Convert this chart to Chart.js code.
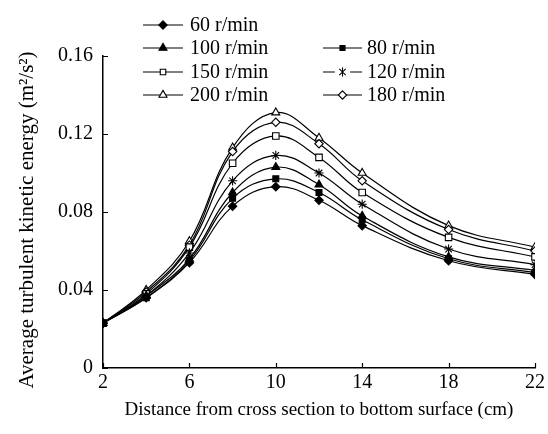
<!DOCTYPE html>
<html>
<head>
<meta charset="utf-8">
<script src="https://cdn.jsdelivr.net/npm/chart.js@4/dist/chart.umd.min.js"></script>
<style>
  html, body { margin: 0; padding: 0; background: #fff; }
  #wrap { width: 548px; height: 434px; position: relative; }
</style>
</head>
<body>
<div id="wrap"><canvas id="c"></canvas></div>
<script>
// ---- data ----
const distances = [2, 4, 6, 8, 10, 12, 14, 18, 22];
const xTicks = [2, 6, 10, 14, 18, 22];
const yTicks = [0, 0.04, 0.08, 0.12, 0.16];
const speedLabels = ['60 r/min', '80 r/min', '100 r/min', '120 r/min', '150 r/min', '180 r/min', '200 r/min'];
const rpm60  = [0.023, 0.036, 0.054, 0.083, 0.093, 0.086, 0.073, 0.055, 0.048];
const rpm80  = [0.023, 0.036, 0.055, 0.087, 0.097, 0.090, 0.076, 0.056, 0.049];
const rpm100 = [0.023, 0.037, 0.056, 0.090, 0.103, 0.094, 0.078, 0.057, 0.050];
const rpm120 = [0.023, 0.037, 0.059, 0.096, 0.109, 0.100, 0.084, 0.061, 0.053];
const rpm150 = [0.023, 0.038, 0.062, 0.105, 0.119, 0.108, 0.090, 0.067, 0.057];
const rpm180 = [0.023, 0.039, 0.063, 0.111, 0.126, 0.115, 0.096, 0.071, 0.060];
const rpm200 = [0.023, 0.040, 0.065, 0.113, 0.131, 0.118, 0.100, 0.073, 0.062];
const xTitle = 'Distance from cross section to bottom surface (cm)';
const yTitle = 'Average turbulent kinetic energy (m²/s²)';

const seriesValues = [rpm60, rpm80, rpm100, rpm120, rpm150, rpm180, rpm200];
const markerStyles = ['rectRot', 'rect', 'triangle', 'star', 'rect', 'rectRot', 'triangle'];
const markerFilled = [true, true, true, false, false, false, false];
const markerRadius = [4.2, 4.2, 4.6, 4.6, 4.6, 4.2, 4.6];

const FONT = '"Liberation Serif", "Times New Roman", serif';

const datasets = seriesValues.map((vals, i) => ({
  label: speedLabels[i],
  data: distances.map((d, j) => ({ x: d, y: vals[j] })),
  borderColor: '#000',
  borderWidth: 1.2,
  backgroundColor: markerFilled[i] ? '#000' : '#fff',
  pointStyle: markerStyles[i],
  pointRadius: markerRadius[i],
  pointBorderWidth: 1.1,
  pointBorderColor: '#000',
  pointBackgroundColor: markerFilled[i] ? '#000' : '#fff',
  tension: 0.4,
  fill: false
}));

function drawMarker(ctx, style, x, y, r, filled) {
  ctx.save();
  ctx.fillStyle = filled ? '#000' : '#fff';
  ctx.strokeStyle = '#000';
  ctx.lineWidth = 1.1;
  ctx.beginPath();
  if (style === 'rect') {
    const s = r * Math.SQRT1_2 * 2 * 0.85;
    ctx.rect(x - s / 2, y - s / 2, s, s);
    ctx.fill(); ctx.stroke();
  } else if (style === 'rectRot') {
    ctx.moveTo(x, y - r); ctx.lineTo(x + r, y); ctx.lineTo(x, y + r); ctx.lineTo(x - r, y); ctx.closePath();
    ctx.fill(); ctx.stroke();
  } else if (style === 'triangle') {
    ctx.moveTo(x, y - r); ctx.lineTo(x + r * 0.87, y + r * 0.5); ctx.lineTo(x - r * 0.87, y + r * 0.5); ctx.closePath();
    ctx.fill(); ctx.stroke();
  } else if (style === 'star') {
    ctx.fillStyle = '#fff';
    ctx.fillRect(x - r - 3, y - r, 2 * r + 6, 2 * r);
    ctx.beginPath();
    ctx.moveTo(x - r * 0.7, y - r * 0.7); ctx.lineTo(x + r * 0.7, y + r * 0.7);
    ctx.moveTo(x + r * 0.7, y - r * 0.7); ctx.lineTo(x - r * 0.7, y + r * 0.7);
    ctx.moveTo(x, y - r); ctx.lineTo(x, y + r);
    ctx.stroke();
  }
  ctx.restore();
}

const legendAndTicks = {
  id: 'legendAndTicks',
  afterDraw(chart) {
    const ctx = chart.ctx;
    const xs = chart.scales.x, ys = chart.scales.y;
    ctx.save();
    ctx.strokeStyle = '#000';
    ctx.lineWidth = 1.2;
    // inward tick marks
    ctx.beginPath();
    xTicks.forEach(v => {
      const px = Math.round(xs.getPixelForValue(v)) + 0.5;
      ctx.moveTo(px, ys.bottom); ctx.lineTo(px, ys.bottom - 5);
    });
    yTicks.forEach(v => {
      const py = Math.round(ys.getPixelForValue(v)) + 0.5;
      ctx.moveTo(xs.left, py); ctx.lineTo(xs.left + 5, py);
    });
    ctx.stroke();

    // y axis title (rotated)
    ctx.save();
    ctx.translate(27, 220);
    ctx.rotate(-Math.PI / 2);
    ctx.font = '21px ' + FONT;
    ctx.fillStyle = '#000';
    ctx.textAlign = 'center';
    ctx.textBaseline = 'middle';
    ctx.fillText(yTitle, 0, 0);
    ctx.restore();

    // legend: two columns
    const colA = { x1: 143, x2: 183, tx: 190 };
    const colB = { x1: 323, x2: 362, tx: 367 };
    const rowY = [25, 48, 72, 95];
    const placement = [
      [colA, 0], [colB, 1], [colA, 1], [colB, 2], [colA, 2], [colB, 3], [colA, 3]
    ];
    ctx.font = '20px ' + FONT;
    ctx.fillStyle = '#000';
    ctx.textBaseline = 'middle';
    ctx.textAlign = 'left';
    chart.data.datasets.forEach((ds, i) => {
      const [col, r] = placement[i];
      const y = rowY[r];
      ctx.beginPath();
      ctx.lineWidth = 1.2;
      ctx.moveTo(col.x1, y); ctx.lineTo(col.x2, y);
      ctx.stroke();
      drawMarker(ctx, markerStyles[i], (col.x1 + col.x2) / 2, y, markerRadius[i], markerFilled[i]);
      ctx.fillStyle = '#000';
      ctx.fillText(ds.label, col.tx, y + 1);
    });
    ctx.restore();
  }
};

new Chart(document.getElementById('c'), {
  type: 'line',
  data: { datasets },
  options: {
    responsive: true,
    maintainAspectRatio: false,
    animation: false,
    layout: { padding: { top: 56, right: 11, bottom: 0, left: 0 } },
    plugins: { legend: { display: false }, tooltip: { enabled: false } },
    scales: {
      x: {
        type: 'linear',
        min: 2, max: 22,
        afterBuildTicks: s => { s.ticks = xTicks.map(v => ({ value: v })); },
        afterFit: s => { s.height = 66; },
        grid: { display: false, drawTicks: false },
        border: { display: true, color: '#000', width: 1.5 },
        ticks: { color: '#000', font: { family: FONT, size: 20 }, padding: 3, maxRotation: 0 },
        title: { display: true, text: xTitle, color: '#000', font: { family: FONT, size: 19 }, padding: { top: 0, bottom: 13 } }
      },
      y: {
        min: 0, max: 0.16,
        afterBuildTicks: s => { s.ticks = yTicks.map(v => ({ value: v })); },
        afterFit: s => { s.width = 103; },
        grid: { display: false, drawTicks: false },
        border: { display: true, color: '#000', width: 1.5 },
        ticks: { color: '#000', font: { family: FONT, size: 20 }, padding: 10,
                 callback: v => v === 0 ? '0' : v.toFixed(2) },
        title: { display: false }
      }
    }
  },
  plugins: [legendAndTicks]
});
</script>
</body>
</html>
